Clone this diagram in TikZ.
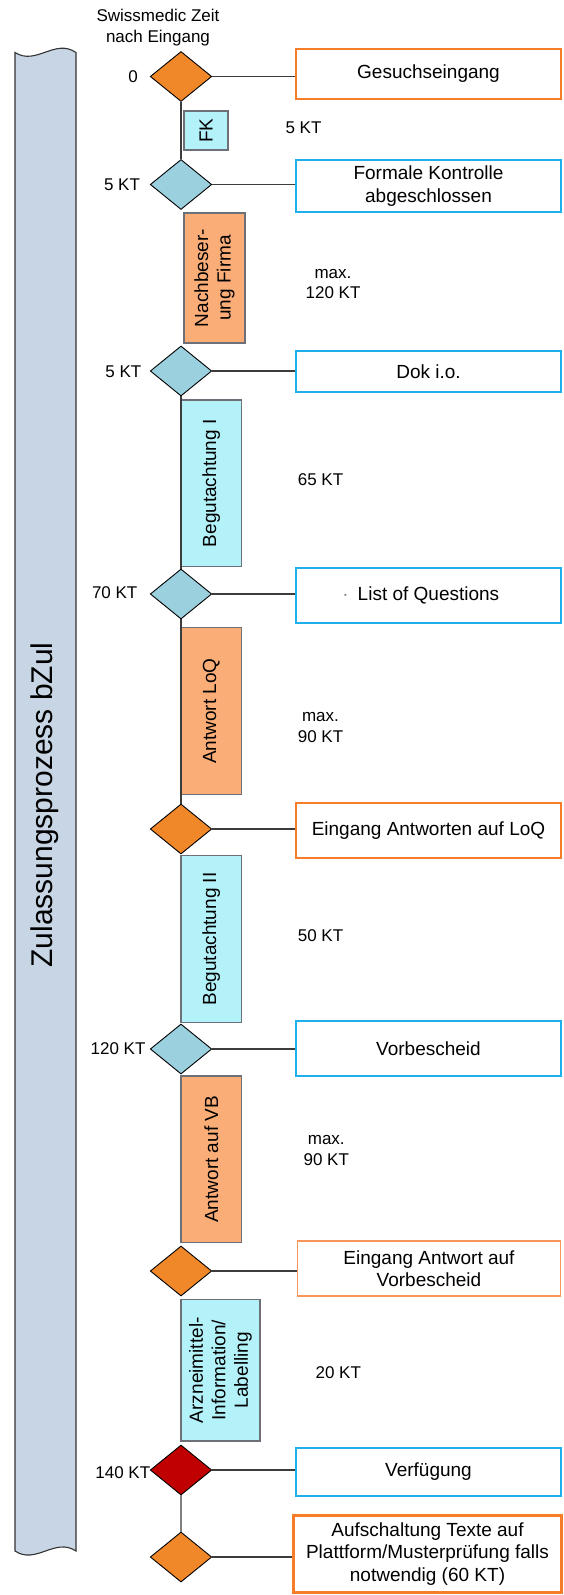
\documentclass[tikz,border=0pt]{standalone}
\usepackage{fontspec}
\setmainfont{Liberation Sans}
\usetikzlibrary{shapes.geometric}
\definecolor{dorange}{RGB}{240,135,40}
\definecolor{dblue}{RGB}{155,208,222}
\definecolor{dred}{RGB}{192,0,0}
\definecolor{porange}{RGB}{251,173,120}
\definecolor{pcyan}{RGB}{180,242,250}
\definecolor{pborder}{RGB}{110,112,120}
\definecolor{eblue}{RGB}{30,175,237}
\definecolor{eorange}{RGB}{247,125,40}
\definecolor{elorange}{RGB}{248,150,90}
\definecolor{barfill}{RGB}{200,213,229}
\definecolor{connc}{RGB}{60,60,60}
\tikzset{
  dia/.style={diamond, draw=black, line width=0.9pt, shape aspect=1.23,
    minimum width=61.5pt, minimum height=50pt, inner sep=0pt},
  evbox/.style={draw, fill=white, minimum width=265pt, inner sep=0pt,
    align=center, font=\fontsize{19}{22.5}\selectfont},
  bluebox/.style={evbox, draw=eblue, line width=1.8pt},
  orbox/.style={evbox, draw=eorange, line width=2.8pt},
  ormbox/.style={evbox, draw=eorange, line width=1.8pt},
  orlbox/.style={evbox, draw=elorange, line width=1.4pt},
  proc/.style={draw=pborder, line width=1.3pt, rotate=90, inner sep=0pt,
    align=center, font=\fontsize{19}{22.5}\selectfont},
  lbl/.style={inner sep=0pt, align=center, font=\fontsize{17}{20.5}\selectfont},
  conn/.style={draw=connc, line width=1.2pt},
}
\begin{document}
\begin{tikzpicture}[x=1pt,y=-1pt]
\useasboundingbox (0,0) rectangle (563,1595);
% left bar
\path[fill=barfill, draw=black!80, line width=1.1pt]
  (15,52.5) .. controls (36,66) and (55,38) .. (76,52.5)
  -- (76,1551) .. controls (55,1537) and (36,1565) .. (15,1551) -- cycle;
\node[rotate=90, font=\fontsize{30}{34}\selectfont, inner sep=0pt] (title) at (45,805) {Zulassungsprozess bZul};

% header
\node[lbl] (hdr) at (158,27.5) {Swissmedic Zeit\\nach Eingang};

% process boxes
\node[proc, fill=pcyan, minimum width=39pt, minimum height=44pt] (fk) at (206,130.5) {FK};
\node[proc, fill=porange, minimum width=130pt, minimum height=61pt] (nach) at (214.5,278) {Nachbeser-\\ung Firma};
\node[proc, fill=pcyan, minimum width=166.7pt, minimum height=60.7pt] (beg1) at (211.3,483.3) {Begutachtung I};
\node[proc, fill=porange, minimum width=166.6pt, minimum height=60.7pt] (aloq) at (211.3,711) {Antwort LoQ};
\node[proc, fill=pcyan, minimum width=166.6pt, minimum height=60.7pt] (beg2) at (211.3,939) {Begutachtung II};
\node[proc, fill=porange, minimum width=166.7pt, minimum height=60.7pt] (avb) at (211.3,1159.3) {Antwort auf VB};
\node[proc, fill=pcyan, minimum width=141.7pt, minimum height=79pt] (arz) at (220.5,1370.2) {Arzneimittel-\\Information/\\Labelling};

% diamonds
\node[dia, fill=dorange] (d0) at (181,76.5) {};
\node[dia, fill=dblue] (d1) at (181,184.5) {};
\node[dia, fill=dblue] (d2) at (181,371) {};
\node[dia, fill=dblue] (d3) at (181,594) {};
\node[dia, fill=dorange] (d4) at (181,829) {};
\node[dia, fill=dblue] (d5) at (181,1049) {};
\node[dia, fill=dorange] (d6) at (181,1271) {};
\node[dia, fill=dred] (d7) at (181,1470) {};
\node[dia, fill=dorange] (d8) at (181,1557) {};

% event boxes
\node[orbox, minimum height=50pt] (b0) at (428.5,74) {Gesuchseingang};
\node[bluebox, minimum height=52pt] (b1) at (428.5,186) {Formale Kontrolle\\abgeschlossen};
\node[bluebox, minimum height=40.7pt] (b2) at (428.5,371.3) {Dok i.o.};
\node[bluebox, minimum height=55pt] (b3) at (428.5,595.8) {\llap{{\color{gray}\textperiodcentered}\hspace{9pt}}List of Questions};
\node[ormbox, minimum height=55.6pt] (b4) at (428.5,830.5) {Eingang Antworten auf LoQ};
\node[bluebox, minimum height=55.3pt] (b5) at (428.5,1048.3) {Vorbescheid};
\node[orlbox, minimum height=55pt, minimum width=263.4pt] (b6) at (429,1268.5) {Eingang Antwort auf\\Vorbescheid};
\node[bluebox, minimum height=47.4pt] (b7) at (428.5,1472) {Verfügung};
\node[orbox, minimum height=77pt, minimum width=268.4pt] (b8) at (427.5,1554) {Aufschaltung Texte auf\\Plattform/Musterprüfung falls\\notwendig (60 KT)};

% vertical connectors
\draw[conn] (d0.south) -- (d1.north);
\draw[conn] (d2.south) -- (d3.north);
\draw[conn] (d3.south) -- (d4.north);
\draw[conn, draw=gray] (d7.south) -- (d8.north);

% horizontal connectors
\foreach \i in {0,...,8} {
  \draw[conn] (d\i.east) -- (d\i.east -| b\i.west);
}

% time labels left
\node[lbl] (t0) at (133,77) {0};
\node[lbl] (t1) at (122,185) {5 KT};
\node[lbl] (t2) at (123.4,372) {5 KT};
\node[lbl] (t3) at (114.7,593) {70 KT};
\node[lbl] (t5) at (118,1048.5) {120 KT};
\node[lbl] (t7) at (122.8,1472.5) {140 KT};

% duration labels right
\node[lbl] (r0) at (303.5,128) {5 KT};
\node[lbl] (r1) at (333,284) {max.\\120 KT};
\node[lbl] (r2) at (320.5,480) {65 KT};
\node[lbl] (r3) at (320.5,727.5) {max.\\90 KT};
\node[lbl] (r4) at (320.5,936) {50 KT};
\node[lbl] (r5) at (326.3,1150.5) {max.\\90 KT};
\node[lbl] (r6) at (338.3,1372.7) {20 KT};
\end{tikzpicture}
\end{document}
